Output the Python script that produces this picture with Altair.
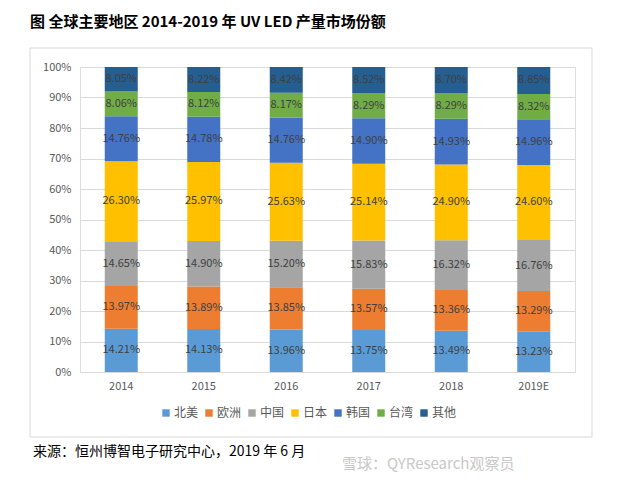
import altair as alt
import pandas as pd

years = ["2014", "2015", "2016", "2017", "2018", "2019E"]
regions = ["北美", "欧洲", "中国", "日本", "韩国", "台湾", "其他"]
colors = ["#5B9BD5", "#ED7D31", "#A5A5A5", "#FFC000", "#4472C4", "#70AD47", "#255E91"]

na = [14.21, 14.13, 13.96, 13.75, 13.49, 13.23]
eu = [13.97, 13.89, 13.85, 13.57, 13.36, 13.29]
cn = [14.65, 14.90, 15.20, 15.83, 16.32, 16.76]
jp = [26.30, 25.97, 25.63, 25.14, 24.90, 24.60]
kr = [14.76, 14.78, 14.76, 14.90, 14.93, 14.96]
tw = [8.06, 8.12, 8.17, 8.29, 8.29, 8.32]
other = [8.05, 8.22, 8.42, 8.52, 8.70, 8.85]

series = [na, eu, cn, jp, kr, tw, other]
y_ticks = [0, 10, 20, 30, 40, 50, 60, 70, 80, 90, 100]

title_text = "图 全球主要地区 2014-2019 年 UV LED 产量市场份额"
source_text = "来源：恒州博智电子研究中心，2019 年 6 月"
watermark_text = "雪球：QYResearch观察员"

rows = []
for i, (reg, vals) in enumerate(zip(regions, series)):
    for y, v in zip(years, vals):
        rows.append({"year": y, "region": reg, "value": v, "idx": i})
df = pd.DataFrame(rows)

FONT = "Noto Sans CJK SC"

base = alt.Chart(df)

x_axis = alt.Axis(labelAngle=0, ticks=False, domainColor="#D9D9D9",
                  labelColor="#595959", labelFontSize=11, labelPadding=8,
                  labelFont=FONT)
y_axis = alt.Axis(values=y_ticks, domain=False, ticks=False, labelOverlap=False,
                  gridColor="#D9D9D9", labelColor="#595959",
                  labelFontSize=11, labelPadding=9, labelFont=FONT,
                  labelExpr="datum.value + '%'")
y_scale = alt.Scale(domain=[0, 100], nice=False)

bars = base.mark_bar(size=33).encode(
    x=alt.X("year:N", sort=years, title=None, axis=x_axis),
    y=alt.Y("value:Q", stack="zero", title=None, scale=y_scale, axis=y_axis),
    color=alt.Color("region:N", sort=regions,
                    scale=alt.Scale(domain=regions, range=colors),
                    legend=alt.Legend(title=None, orient="none", legendX=80, legendY=340,
                                      direction="horizontal", symbolType="square",
                                      symbolSize=55, symbolStrokeWidth=0,
                                      labelFontSize=12, labelColor="#595959",
                                      labelFont=FONT, labelOffset=2,
                                      columnPadding=4, columns=7)),
    order=alt.Order("idx:Q"),
)

labels = base.transform_stack(
    stack="value", groupby=["year"], as_=["v0", "v1"],
    sort=[alt.SortField("idx", order="ascending")]
).transform_calculate(
    mid="(datum.v0 + datum.v1) / 2",
    lab="format(datum.value, '.2f') + '%'"
).mark_text(fontSize=11, color="#404040", font=FONT).encode(
    x=alt.X("year:N", sort=years, title=None, axis=x_axis),
    y=alt.Y("mid:Q", title=None, scale=y_scale, axis=y_axis),
    text="lab:N",
)

frame = alt.Chart(pd.DataFrame({"a": [0]})).mark_rect(
    fill="transparent", stroke="#D9D9D9", strokeWidth=1
).encode(x=alt.value(-50), x2=alt.value(512), y=alt.value(-19), y2=alt.value(370))

title = alt.Chart(pd.DataFrame({"t": [title_text]})).mark_text(
    align="left", baseline="middle", fontSize=15, fontWeight="bold", font=FONT, color="#000000"
).encode(x=alt.value(-50), y=alt.value(-45), text="t:N")

source = alt.Chart(pd.DataFrame({"t": [source_text]})).mark_text(
    align="left", baseline="middle", fontSize=14, font=FONT, color="#000000"
).encode(x=alt.value(-47), y=alt.value(385), text="t:N")

watermark = alt.Chart(pd.DataFrame({"t": [watermark_text]})).mark_text(
    align="left", baseline="middle", fontSize=15, font=FONT, color="#C8C8C8"
).encode(x=alt.value(262), y=alt.value(397), text="t:N")

chart = alt.layer(frame, bars, labels, title, source, watermark).properties(
    width=495, height=305,
    autosize=alt.AutoSizeParams(type="none"),
    padding={"left": 72, "top": 59, "right": 35, "bottom": 102},
).configure_view(stroke=None).configure(background="#FFFFFF")

chart.save("out.html", embed_options={"renderer": "svg", "actions": False})
